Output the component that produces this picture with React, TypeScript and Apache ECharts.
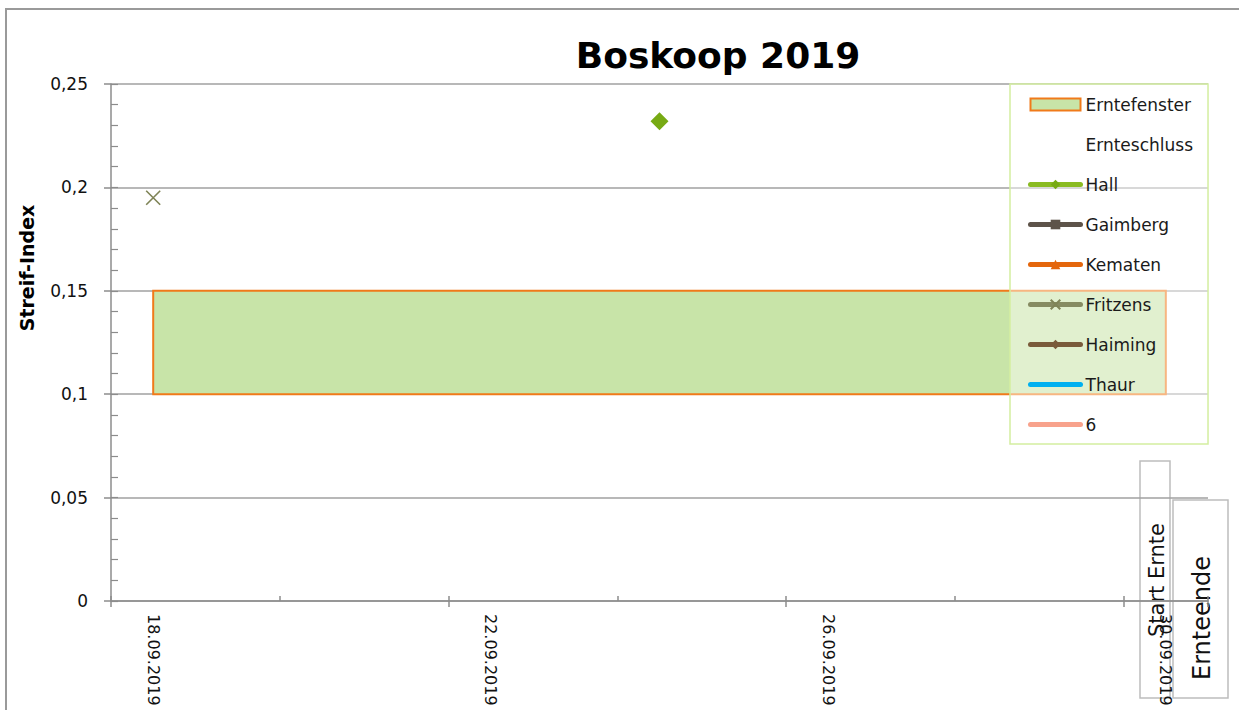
import React, { useEffect, useRef } from 'react';
import * as echarts from 'echarts';

const FONT = '"DejaVu Sans", sans-serif';

const dates = [
  '18.09.2019', '19.09.2019', '20.09.2019', '21.09.2019', '22.09.2019',
  '23.09.2019', '24.09.2019', '25.09.2019', '26.09.2019', '27.09.2019',
  '28.09.2019', '29.09.2019', '30.09.2019',
];

const yMin = 0;
const yMax = 0.25;
const yStep = 0.05;

const windowStart = '18.09.2019';
const windowEnd = '30.09.2019';
const windowLow = 0.1;
const windowHigh = 0.15;

const hall = [null, null, null, null, null, null, 0.232, null, null, null, null, null, null];
const gaimberg: (number | null)[] = [];
const kematen: (number | null)[] = [];
const fritzens = [0.195, null, null, null, null, null, null, null, null, null, null, null, null];
const haiming: (number | null)[] = [];
const thaur: (number | null)[] = [];
const six: (number | null)[] = [];

const sites = [
  { name: 'Hall', data: hall, symbol: 'diamond', size: 18, color: '#77aa14', line: '#8abb22' },
  { name: 'Gaimberg', data: gaimberg, symbol: 'rect', size: 10, color: '#5d5349', line: '#5d5349' },
  { name: 'Kematen', data: kematen, symbol: 'triangle', size: 10, color: '#e4660c', line: '#e4660c' },
  { name: 'Fritzens', data: fritzens, symbol: 'path://M0,0L10,10M10,0L0,10', size: 14, color: '#7f8457', line: '#868b62' },
  { name: 'Haiming', data: haiming, symbol: 'diamond', size: 10, color: '#7a5b3b', line: '#7a5b3b' },
  { name: 'Thaur', data: thaur, symbol: 'none', size: 0, color: '#00b0f0', line: '#00b0f0' },
  { name: '6', data: six, symbol: 'none', size: 0, color: '#f8a28c', line: '#f8a28c' },
];

export default function App() {
  const ref = useRef<HTMLDivElement>(null);

  useEffect(() => {
    if (!ref.current) return;
    const chart = echarts.init(ref.current, undefined, { renderer: 'svg' });
    const axisGray = '#8c8c8c';

    const option: any = {
      animation: false,
      backgroundColor: '#fff',
      textStyle: { fontFamily: FONT },
      title: {
        text: 'Boskoop 2019',
        left: 713,
        top: 32,
        textAlign: 'center',
        textStyle: { fontSize: 36, fontWeight: 'bold', color: '#000', fontFamily: FONT },
      },
      grid: { left: 111, right: 31, top: 84, bottom: 109, containLabel: false },
      xAxis: [
        {
          type: 'category',
          position: 'bottom',
          data: dates,
          boundaryGap: true,
          axisLine: { show: true, lineStyle: { color: axisGray, width: 1.5 } },
          axisTick: { show: true, interval: 3, length: 6, lineStyle: { color: axisGray, width: 1.5 } },
          axisLabel: {
            interval: 3, rotate: -90, fontSize: 16, color: '#111', margin: 13, fontFamily: FONT,
          },
          splitLine: { show: false },
        },
        {
          type: 'category',
          position: 'bottom',
          data: dates,
          boundaryGap: true,
          axisLine: { show: false },
          axisTick: { show: true, interval: 1, inside: true, length: 5, lineStyle: { color: axisGray, width: 1.5 } },
          axisLabel: { show: false },
          splitLine: { show: false },
        },
      ],
      yAxis: [
        {
          type: 'value',
          position: 'left',
          min: yMin,
          max: yMax,
          interval: yStep,
          axisLine: { show: true, lineStyle: { color: axisGray, width: 1.5 } },
          axisTick: { show: true, length: 7, lineStyle: { color: axisGray, width: 1.5 } },
          axisLabel: {
            fontSize: 17, color: '#111', margin: 23, fontFamily: FONT,
            formatter: (v: number) => String(Math.round(v * 100) / 100).replace('.', ','),
          },
          splitLine: { show: true, lineStyle: { color: '#a0a0a0', width: 1.5 } },
        },
        {
          type: 'value',
          position: 'left',
          min: yMin,
          max: yMax,
          interval: yStep,
          axisLine: { show: false },
          axisTick: { show: true, inside: true, length: 7, lineStyle: { color: axisGray, width: 1.2 } },
          minorTick: { show: true, splitNumber: 5, length: 7, lineStyle: { color: axisGray, width: 1.2 } },
          axisLabel: { show: false },
          splitLine: { show: false },
        },
      ],
      legend: {
        orient: 'vertical',
        left: 1010,
        top: 84,
        padding: [12, 15, 11, 18],
        itemWidth: 50,
        itemHeight: 12,
        itemGap: 23,
        backgroundColor: 'rgba(255,255,255,0.45)',
        borderColor: '#d4eea0',
        borderWidth: 1.5,
        z: 10,
        lineStyle: { width: 5, cap: 'round' },
        textStyle: { fontSize: 17, color: '#1a1a1a', fontFamily: FONT },
        data: [
          {
            name: 'Erntefenster', icon: 'rect',
            itemStyle: { color: '#c8e4a8', borderColor: '#f07a1a', borderWidth: 2 },
          },
          {
            name: 'Ernteschluss',
            itemStyle: { opacity: 0, color: 'rgba(0,0,0,0)', borderColor: 'rgba(0,0,0,0)' },
            lineStyle: { opacity: 0, color: 'rgba(0,0,0,0)' },
          },
          ...sites.map((s) =>
            s.symbol === 'none'
              ? { name: s.name, itemStyle: { opacity: 0, color: 'rgba(0,0,0,0)', borderColor: 'rgba(0,0,0,0)' } }
              : { name: s.name }
          ),
        ],
      },
      series: [
        {
          name: 'Erntefenster',
          type: 'custom',
          xAxisIndex: 0,
          yAxisIndex: 0,
          z: 1,
          encode: { x: [0, 1], y: [2, 3] },
          data: [[dates.indexOf(windowStart), dates.indexOf(windowEnd), windowLow, windowHigh]],
          itemStyle: { color: '#c8e4a8' },
          renderItem: (params: any, api: any) => {
            const p1 = api.coord([api.value(0), api.value(3)]);
            const p2 = api.coord([api.value(1), api.value(2)]);
            return {
              type: 'rect',
              shape: { x: p1[0], y: p1[1], width: p2[0] - p1[0], height: p2[1] - p1[1] },
              style: { fill: '#c8e4a8', stroke: '#f07a1a', lineWidth: 2 },
            };
          },
        },
        {
          name: 'Ernteschluss',
          type: 'line',
          data: [],
          symbol: 'none',
          lineStyle: { color: 'rgba(0,0,0,0)', width: 0 },
          itemStyle: { color: 'rgba(0,0,0,0)' },
        },
        ...sites.map((s) => ({
          name: s.name,
          type: 'line',
          xAxisIndex: 0,
          yAxisIndex: 0,
          z: 3,
          data: s.data,
          symbol: s.symbol,
          symbolSize: s.size,
          showSymbol: true,
          connectNulls: false,
          itemStyle: { color: s.color, borderColor: s.color, borderWidth: s.symbol.startsWith('path') ? 1.6 : 0 },
          lineStyle: { color: s.line, width: 5, cap: 'round' },
        })),
      ],
      graphic: [
        {
          type: 'rect',
          z: 100,
          shape: { x: 6, y: 9, width: 1260, height: 720 },
          style: { fill: 'none', stroke: '#9a9a9a', lineWidth: 2 },
          silent: true,
        },
        {
          type: 'text',
          z: 100,
          x: 27,
          y: 268,
          rotation: Math.PI / 2,
          style: {
            text: 'Streif-Index', fontSize: 19, fontWeight: 'bold', fill: '#000',
            fontFamily: FONT, align: 'center', verticalAlign: 'middle',
          },
        },
        {
          type: 'group',
          z: 100,
          children: [
            {
              type: 'rect',
              shape: { x: 1140, y: 461, width: 30, height: 237 },
              style: { fill: 'rgba(255,255,255,0.75)', stroke: '#bdbdbd', lineWidth: 1.5 },
            },
            {
              type: 'text',
              x: 1157,
              y: 580,
              rotation: Math.PI / 2,
              style: {
                text: 'Start Ernte', fontSize: 21, fill: '#111', fontFamily: FONT,
                align: 'center', verticalAlign: 'middle',
              },
            },
            {
              type: 'rect',
              shape: { x: 1173, y: 500, width: 55, height: 198 },
              style: { fill: 'rgba(255,255,255,0.85)', stroke: '#bdbdbd', lineWidth: 1.5 },
            },
            {
              type: 'text',
              x: 1202,
              y: 618,
              rotation: Math.PI / 2,
              style: {
                text: 'Ernteende', fontSize: 24, fill: '#111', fontFamily: FONT,
                align: 'center', verticalAlign: 'middle',
              },
            },
          ],
        },
      ],
    };

    chart.setOption(option);
    return () => chart.dispose();
  }, []);

  return (
    <div
      ref={ref}
      style={{ position: 'fixed', left: 0, top: 0, width: 1239, height: 710 }}
    />
  );
}
